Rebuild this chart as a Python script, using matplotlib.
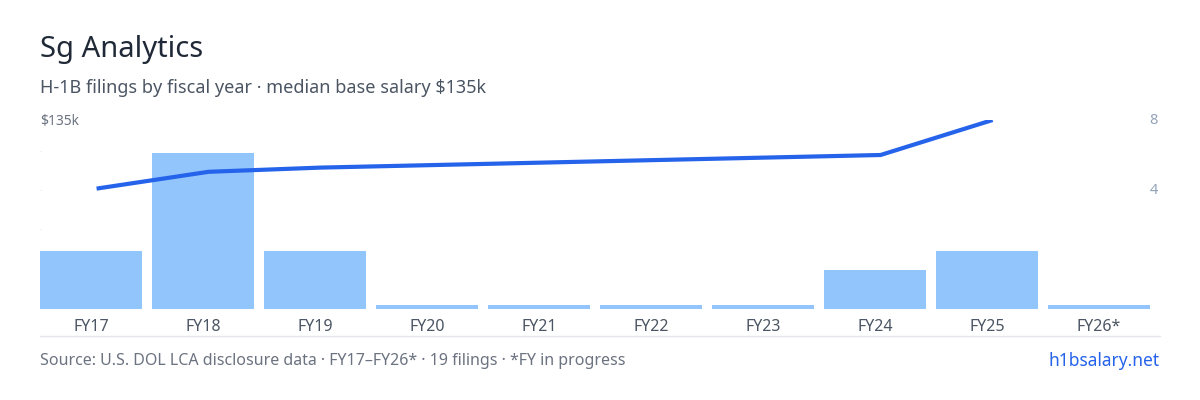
import matplotlib
matplotlib.use("Agg")
import matplotlib.pyplot as plt
import numpy as np

years = ["FY17","FY18","FY19","FY20","FY21","FY22","FY23","FY24","FY25","FY26*"]
filings = [3, 8, 3, 0, 0, 0, 0, 2, 3, 0]
salary_k = [86, 98, 101, np.nan, np.nan, np.nan, np.nan, 110, 135, np.nan]

plt.rcParams['font.family'] = ['Noto Sans', 'DejaVu Sans']
fig = plt.figure(figsize=(12, 4), dpi=100)
ax = fig.add_axes([35/1200, 1-309/400, 1120/1200, 189/400])
x = np.arange(len(years))
disp = [max(v, 0.2) for v in filings]
ax.bar(x, disp, width=102/112, color="#93c5fd")
ax.set_xlim(-0.5, len(years)-0.5)
ax.set_ylim(0, 8*189/156)
for s in ax.spines.values():
    s.set_visible(False)
ax.set_yticks([])
ax.set_xticks(x)
ax.set_xticklabels(years, fontsize=11.5, color="#4b5563")
ax.tick_params(axis='x', length=0, pad=7)

ax2 = ax.twinx()
ax2.set_ylim(0, 135)
sx = [i + 0.05 for i, v in zip(x, salary_k) if not np.isnan(v)]
sy = [v for v in salary_k if not np.isnan(v)]
ax2.plot(sx, sy, color="#2563eb", lw=3, solid_capstyle='butt')
ax2.axis('off')

fig.text(40/1200, 1-50/400, "Sg Analytics", fontsize=21, color="#1f2937", va='center')
fig.text(40/1200, 1-88/400, "H-1B filings by fiscal year · median base salary $135k", fontsize=13, color="#4b5563", va='center')
fig.text(40/1200, 1-121/400, "$135k", fontsize=10, color="#6b7280", va='center')
fig.text(1158/1200, 1-121/400, "8", fontsize=10.5, color="#94a3b8", va='center', ha='right')
fig.text(1158/1200, 1-191/400, "4", fontsize=10.5, color="#94a3b8", va='center', ha='right')
for yy in [152, 191, 230]:
    fig.text(40/1200, 1-yy/400, "·", fontsize=5, color="#d1d5db", va='center')
fig.add_artist(plt.Line2D([40/1200, 1160/1200], [1-336/400]*2, color="#e5e7eb", lw=1))
fig.text(40/1200, 1-361/400, "Source: U.S. DOL LCA disclosure data · FY17–FY26* · 19 filings · *FY in progress", fontsize=11.5, color="#6b7280", va='center')
fig.text(1160/1200, 1-361/400, "h1bsalary.net", fontsize=12.5, color="#2563eb", va='center', ha='right')
fig.savefig("out.png", dpi=100)
